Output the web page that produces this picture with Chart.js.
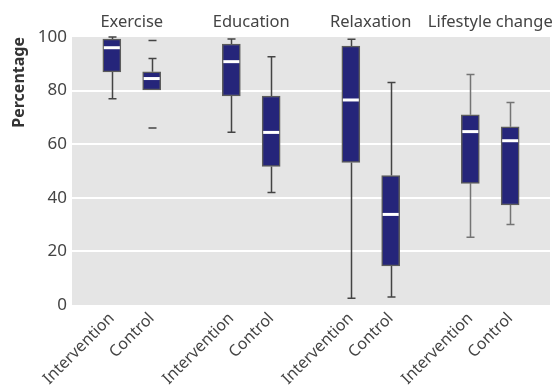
<!DOCTYPE html>
<html>
<head>
<meta charset="utf-8">
<title>Percentage by intervention type</title>
<script src="https://cdn.jsdelivr.net/npm/chart.js@4/dist/chart.umd.min.js"></script>
<style>
  html, body { margin: 0; padding: 0; background: #ffffff; }
  #wrap { width: 555px; height: 386px; position: relative; }
</style>
</head>
<body>
<div id="wrap"><canvas id="chart"></canvas></div>
<script>
// Groups and arms
const groups = ['Exercise', 'Education', 'Relaxation', 'Lifestyle change'];
const arms = ['Intervention', 'Control'];

// Box plot statistics, one entry per box (group order, Intervention then Control)
const whiskerLow  = [77.0, 80.3, 64.5, 42.0,  2.5,  3.0, 25.3, 30.0];
const quartile1   = [87.0, 80.3, 78.0, 51.7, 53.2, 14.6, 45.4, 37.3];
const medians     = [96.0, 84.5, 90.8, 64.4, 76.5, 33.8, 64.7, 61.3];
const quartile3   = [99.2, 87.0, 97.4, 78.0, 96.6, 48.3, 71.0, 66.5];
const whiskerHigh = [100.0, 92.0, 99.3, 92.6, 99.2, 83.0, 86.0, 75.6];
const outliers    = [[], [98.7, 66.0], [], [], [], [], [], []];

// Y axis ticks
const yTicks = [0, 20, 40, 60, 80, 100];

// Whisker shade per group
const whiskerShade = ['#444444', '#444444', '#444444', '#747474'];

// Category slots: a blank slot before each group, plus one at the far end
const slotLabels = [];
const boxSlot = [];
const boxGroup = [];
groups.forEach(function (g, gi) {
  slotLabels.push('');
  arms.forEach(function (a) {
    boxSlot.push(slotLabels.length);
    boxGroup.push(gi);
    slotLabels.push(a);
  });
});
slotLabels.push('');

const boxRanges = slotLabels.map(function () { return null; });
boxSlot.forEach(function (s, i) { boxRanges[s] = [quartile1[i], quartile3[i]]; });

const TEXT = '#444444';
const FONT = "'Noto Sans', 'Open Sans', sans-serif";

// Grey panel behind the plotting region
const panelBackground = {
  id: 'panelBackground',
  beforeDraw(chart) {
    const { ctx } = chart;
    const x = chart.scales.x, y = chart.scales.y;
    ctx.save();
    ctx.fillStyle = '#e5e5e5';
    ctx.fillRect(x.left, y.top, x.right - x.left, y.bottom - y.top);
    ctx.restore();
  }
};

// Whiskers, caps, outlier dashes and median lines
const boxParts = {
  id: 'boxParts',
  beforeDatasetsDraw(chart) {
    const { ctx } = chart;
    const x = chart.scales.x, y = chart.scales.y;
    const cap = 4;
    ctx.save();
    ctx.lineWidth = 1.5;
    boxSlot.forEach(function (s, i) {
      const cx = Math.round(x.getPixelForValue(s)) + 0.5;
      const yl = y.getPixelForValue(whiskerLow[i]);
      const yh = y.getPixelForValue(whiskerHigh[i]);
      const y1 = y.getPixelForValue(quartile1[i]);
      const y3 = y.getPixelForValue(quartile3[i]);
      ctx.strokeStyle = whiskerShade[boxGroup[i]];
      ctx.beginPath();
      if (whiskerHigh[i] > quartile3[i]) {
        ctx.moveTo(cx, y3); ctx.lineTo(cx, yh);
        ctx.moveTo(cx - cap, yh); ctx.lineTo(cx + cap, yh);
      }
      if (whiskerLow[i] < quartile1[i]) {
        ctx.moveTo(cx, y1); ctx.lineTo(cx, yl);
        ctx.moveTo(cx - cap, yl); ctx.lineTo(cx + cap, yl);
      }
      outliers[i].forEach(function (v) {
        const yo = y.getPixelForValue(v);
        ctx.moveTo(cx - cap, yo); ctx.lineTo(cx + cap, yo);
      });
      ctx.stroke();
    });
    ctx.restore();
  },
  afterDatasetsDraw(chart) {
    const { ctx } = chart;
    const meta = chart.getDatasetMeta(0);
    const y = chart.scales.y;
    ctx.save();
    ctx.strokeStyle = '#ffffff';
    ctx.lineWidth = 3;
    boxSlot.forEach(function (s, i) {
      const bar = meta.data[s];
      const half = bar.width / 2 - 1;
      const ym = y.getPixelForValue(medians[i]);
      ctx.beginPath();
      ctx.moveTo(bar.x - half, ym);
      ctx.lineTo(bar.x + half, ym);
      ctx.stroke();
    });
    ctx.restore();
  }
};

new Chart(document.getElementById('chart'), {
  type: 'bar',
  data: {
    labels: slotLabels,
    datasets: [{
      data: boxRanges,
      backgroundColor: '#25257a',
      borderColor: '#5c5c5c',
      borderWidth: 1.5,
      borderSkipped: false,
      barThickness: 18,
      xAxisID: 'x',
      yAxisID: 'y'
    }]
  },
  options: {
    responsive: true,
    maintainAspectRatio: false,
    animation: false,
    layout: { padding: { left: 0, right: 5, top: 0, bottom: 0 } },
    plugins: { legend: { display: false }, tooltip: { enabled: false } },
    scales: {
      x: {
        type: 'category',
        position: 'bottom',
        offset: false,
        grid: { display: false, drawTicks: false },
        border: { display: false },
        ticks: {
          autoSkip: false,
          maxRotation: 45,
          minRotation: 45,
          padding: 4,
          color: TEXT,
          font: { family: FONT, size: 16 }
        },
        afterFit(scale) {
          scale.height = 81;
          scale.paddingLeft = 0;
          scale.paddingRight = 0;
        }
      },
      top: {
        type: 'category',
        position: 'top',
        labels: groups,
        offset: true,
        grid: { display: false, drawTicks: false },
        border: { display: false },
        ticks: {
          autoSkip: false,
          maxRotation: 0,
          minRotation: 0,
          padding: 5,
          color: TEXT,
          font: { family: FONT, size: 16.5 }
        },
        afterFit(scale) {
          scale.height = 37;
          scale.paddingLeft = 0;
          scale.paddingRight = 0;
        }
      },
      y: {
        min: 0,
        max: 100,
        afterBuildTicks(scale) { scale.ticks = yTicks.map(function (v) { return { value: v }; }); },
        grid: {
          color(c) { return (c.tick && (c.tick.value === 0 || c.tick.value === 100)) ? 'rgba(0,0,0,0)' : '#ffffff'; },
          lineWidth: 2,
          drawTicks: false
        },
        border: { display: false },
        ticks: {
          padding: 5,
          color: TEXT,
          font: { family: FONT, size: 17 }
        },
        title: {
          display: true,
          text: 'Percentage',
          align: 'end',
          color: '#333333',
          font: { family: FONT, size: 16, weight: 'bold' },
          padding: { top: 10, bottom: 0 }
        },
        afterFit(scale) { scale.width = 72; }
      }
    }
  },
  plugins: [panelBackground, boxParts]
});
</script>
</body>
</html>
